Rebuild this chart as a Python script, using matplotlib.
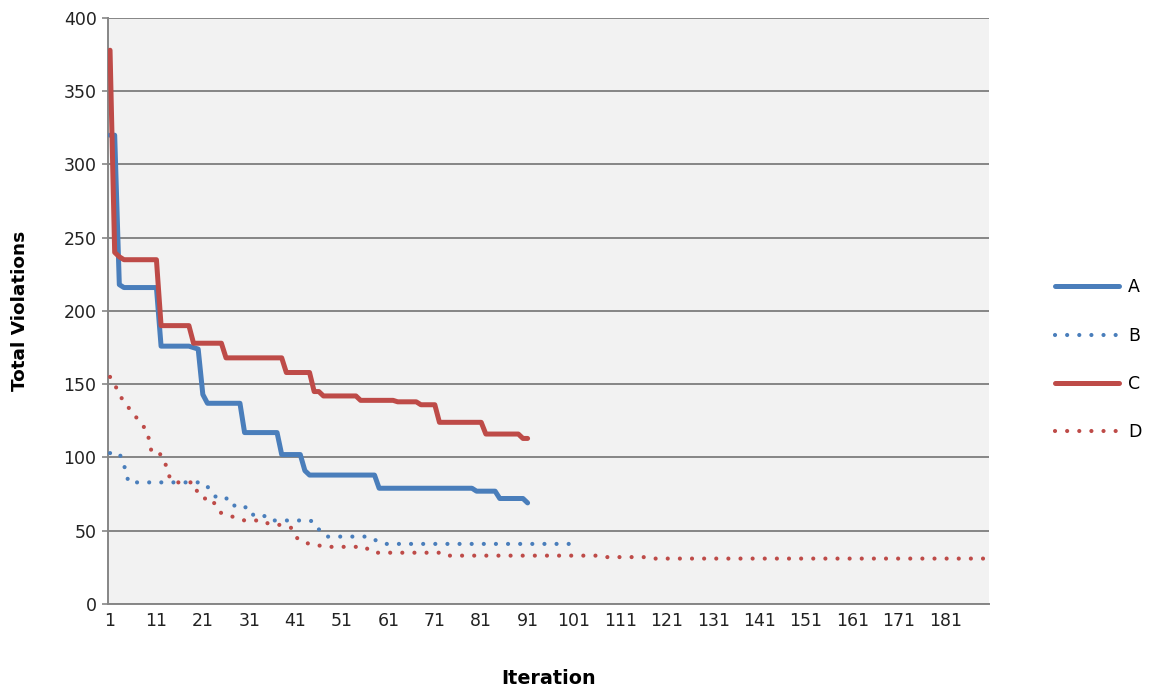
import numpy as np
import matplotlib
matplotlib.use("Agg")
import matplotlib.pyplot as plt

# total violations per iteration for each run
a_vals = [320, 320, 218, 216, 216, 216, 216, 216, 216, 216, 216,
          176, 176, 176, 176, 176, 176, 176, 175, 174,
          143, 137, 137, 137, 137, 137, 137, 137, 137,
          117, 117, 117, 117, 117, 117, 117, 117,
          102, 102, 102, 102, 102, 91,
          88, 88, 88, 88, 88, 88, 88, 88, 88, 88, 88, 88, 88, 88, 88,
          79, 79, 79, 79, 79, 79, 79, 79, 79, 79, 79, 79, 79, 79, 79, 79, 79, 79, 79, 79, 79,
          77, 77, 77, 77, 77,
          72, 72, 72, 72, 72, 72,
          69]

b_vals = [103, 103, 103, 95,
          83, 83, 83, 83, 83, 83, 83, 83, 83, 83, 83, 83, 83, 83, 83, 83, 83,
          80, 77, 72, 72, 72, 72,
          66, 66, 66, 66, 60, 60, 60, 60,
          57, 57, 57, 57, 57, 57, 57, 57, 57,
          56, 51, 47,
          46, 46, 46, 46, 46, 46, 46, 46, 46, 46,
          44, 42,
          41, 41, 41, 41, 41, 41, 41, 41, 41, 41, 41, 41, 41, 41, 41, 41, 41, 41, 41, 41, 41,
          41, 41, 41, 41, 41, 41, 41, 41, 41, 41, 41, 41, 41, 41, 41, 41, 41, 41, 41, 41]

c_vals = [378, 240, 237,
          235, 235, 235, 235, 235, 235, 235, 235,
          190, 190, 190, 190, 190, 190, 190,
          178, 178, 178, 178, 178, 178, 178,
          168, 168, 168, 168, 168, 168, 168, 168, 168, 168, 168, 168, 168,
          158, 158, 158, 158, 158, 158,
          145, 145,
          142, 142, 142, 142, 142, 142, 142, 142,
          139, 139, 139, 139, 139, 139, 139, 139,
          138, 138, 138, 138, 138,
          136, 136, 136, 136,
          124, 124, 124, 124, 124, 124, 124, 124, 124, 124,
          116, 116, 116, 116, 116, 116, 116, 116,
          113, 113]

d_vals = [155, 150, 143, 138, 134, 130, 126, 122, 118, 103, 103, 102, 95, 85,
          83, 83, 83, 83, 83, 75, 72, 72, 72,
          65, 62, 61, 60, 59, 58,
          57, 57, 57, 57, 57, 55, 54, 54, 54, 53, 52,
          46, 43, 42, 41, 41, 40,
          39, 39, 39, 39, 39, 39, 39, 39, 39, 39, 36,
          35, 35, 35, 35, 35, 35, 35, 35, 35, 35, 35, 35, 35, 35, 35,
          33, 33, 33, 33, 33, 33, 33, 33, 33, 33, 33, 33, 33, 33, 33, 33, 33,
          33, 33, 33, 33, 33, 33, 33, 33, 33, 33, 33, 33, 33, 33, 33, 33, 33,
          32, 32, 32, 32, 32, 32, 32, 32, 32, 32,
          31, 31, 31, 31, 31, 31, 31, 31, 31, 31, 31, 31, 31, 31, 31, 31, 31, 31, 31, 31,
          31, 31, 31, 31, 31, 31, 31, 31, 31, 31, 31, 31, 31, 31, 31, 31, 31, 31, 31, 31,
          31, 31, 31, 31, 31, 31, 31, 31, 31, 31, 31, 31, 31, 31, 31, 31, 31, 31, 31, 31,
          31, 31, 31, 31, 31, 31, 31, 31, 31, 31, 31, 31, 31, 31]

n_categories = 190
x_labels = [str(i) for i in range(1, 182, 10)]
y_ticks = [0, 50, 100, 150, 200, 250, 300, 350, 400]

BLUE = '#4A7EBB'
RED = '#BE4B48'
GRID = '#868686'

fig = plt.figure(figsize=(11.57, 6.92), dpi=100)
ax = fig.add_axes([0.0931, 0.1272, 0.7619, 0.8468])
ax.set_facecolor('#F2F2F2')

dot_style = dict(linestyle=(0, (0.01, 2.9)), dash_capstyle='round', lw=3.0)
solid_style = dict(lw=3.6, solid_joinstyle='round', solid_capstyle='round')

series = [
    ('A', a_vals, BLUE, solid_style),
    ('B', b_vals, BLUE, dot_style),
    ('C', c_vals, RED, solid_style),
    ('D', d_vals, RED, dot_style),
]
handles = {}
for name, vals, col, style in series:
    xs = np.arange(1, len(vals) + 1)
    (ln,) = ax.plot(xs, vals, color=col, label=name, zorder=3, **style)
    handles[name] = ln

ax.set_xlim(0.5, n_categories + 0.5)
ax.set_ylim(0, 400)
ax.set_yticks(y_ticks)
ax.set_xticks(range(1, 182, 10))
ax.set_xticklabels(x_labels)
ax.yaxis.grid(True, color=GRID, lw=1.4, zorder=1)
ax.set_axisbelow(True)

for side in ['top', 'right']:
    ax.spines[side].set_visible(False)
for side in ['left', 'bottom']:
    ax.spines[side].set_color(GRID)
    ax.spines[side].set_linewidth(1.4)

ax.tick_params(axis='y', length=4, width=1.2, color=GRID, pad=4, labelsize=12.5, labelcolor='#222222')
ax.tick_params(axis='x', length=0, pad=6, labelsize=12.5, labelcolor='#222222')

ax.set_xlabel('Iteration', fontsize=13.8, fontweight='bold', labelpad=28)
ax.set_ylabel('Total Violations', fontsize=13.3, fontweight='bold', labelpad=25)

fig.legend(handles=[handles[k] for k in ['A', 'B', 'C', 'D']],
           loc='center left', bbox_to_anchor=(0.912, 0.48), frameon=False,
           handlelength=3.7, handletextpad=0.5, labelspacing=1.75,
           fontsize=12.5, borderpad=0, borderaxespad=0)

fig.savefig('out.png', dpi=100, facecolor='white')
